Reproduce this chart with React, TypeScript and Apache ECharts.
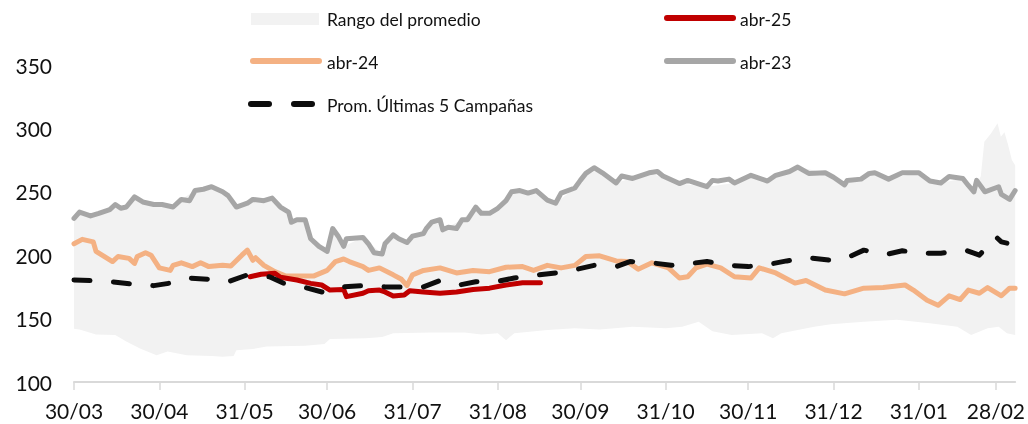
import React, { useEffect, useRef } from "react";
import * as echarts from "echarts";

// x = days since 30/03
const tickDays = [0, 31, 62, 92, 123, 154, 184, 215, 245, 276, 307, 335];
const tickLabels = ["30/03", "30/04", "31/05", "30/06", "31/07", "31/08", "30/09", "31/10", "30/11", "31/12", "31/01", "28/02"];

const abr25: [number, number][] = [
  [64, 183], [68, 185], [73, 185.7], [75, 182.6], [81, 180.4], [86, 177.8], [90, 176.5], [93, 172.5], [98, 173],
  [99, 167.3], [105, 170], [107, 172], [111, 172.5], [113, 171], [116, 167.8], [120, 168.6], [122, 172], [127, 171],
  [133, 170], [139, 171], [145, 173], [151, 174], [157, 176.5], [163, 178.3], [169.5, 178.3],
];

const abr24: [number, number][] = [
  [0, 209], [3, 212.5], [7, 210.5], [8, 203], [14, 195], [16, 199], [20, 197.5], [22, 193.5], [23, 199], [26, 202],
  [28, 200], [31, 190], [35, 188], [36, 192], [39, 194], [43, 191], [46, 194], [49, 191], [54, 192], [57, 191.5],
  [61, 200], [63, 204], [65, 196], [66, 198], [69, 192], [73, 187], [77, 183.5], [81, 183.5], [87, 183.5], [92, 188],
  [95, 195], [98, 197], [100, 195], [105, 191], [107, 188], [111, 190], [116, 184.5], [119, 181], [121, 176],
  [123, 184.5], [127, 188], [133, 190], [139, 186], [145, 188], [151, 187], [157, 190.5], [163, 191], [167, 188],
  [172, 192], [177, 190], [182, 192], [186, 199], [191, 199.5], [197, 195.5], [201, 195], [205, 189], [210, 194],
  [216, 190], [220, 182], [223, 183], [226, 190], [230, 193], [235, 190], [240, 183], [246, 182], [249, 190],
  [255, 186], [262, 178], [266, 180], [273, 172.5], [280, 169.5], [287, 174], [294, 174.5], [302, 176.5],
  [305, 172.5], [310, 164.5], [314, 160.5], [318, 168], [322, 165], [325, 172.5], [329, 170], [332, 174.5],
  [337, 168], [340, 174], [342, 174],
];

const abr23: [number, number][] = [
  [0, 229], [2, 234], [6, 231], [9, 233], [13, 236], [15, 240], [17, 237], [19, 238], [22, 246], [25, 242], [29, 240],
  [32, 240], [36, 238], [39, 244], [42, 243], [44, 251], [47, 252], [50, 254], [54, 250], [56, 247], [59, 238],
  [63, 241], [65, 244], [69, 243], [72, 245], [75, 238], [78, 234], [79, 226], [81, 228], [84, 228], [86, 213],
  [89, 207], [92, 203], [94, 221], [96, 215], [98, 207], [99, 213], [105, 214], [107, 209], [109, 202], [112, 201],
  [113, 209], [116, 216], [118, 213], [121, 210], [123, 215], [127, 217], [128, 221], [130, 226], [133, 228],
  [134, 220], [136, 222], [139, 221], [141, 228], [143, 228], [146, 238], [148, 233], [151, 233], [154, 237],
  [157, 243], [159, 250], [162, 251], [165, 249], [168, 251], [172, 243.5], [175, 241], [177, 249], [182, 253],
  [184, 259], [186, 264.5], [189, 269], [192, 265], [197, 257], [199, 262.5], [203, 260.5], [209, 265], [212, 266],
  [214, 262.5], [220, 256.5], [223, 259], [230, 254], [232, 259], [234, 258.5], [238, 260], [240, 257], [246, 263],
  [252, 258.5], [255, 263], [260, 266], [263, 269.5], [267, 264.5], [273, 265], [276, 261.5], [280, 255.5],
  [281, 259], [286, 260], [289, 264.5], [291, 265], [296, 260], [301, 265], [307, 265], [311, 258.5], [315, 257],
  [318, 262], [323, 260.5], [325, 255], [327, 250], [328, 259], [331, 250], [336, 254], [337, 248], [340, 244],
  [342, 251],
];

const prom5: [number, number][] = [
  [0, 180.5], [6, 180], [14, 179], [22, 177], [29, 176], [35, 178], [42, 182], [49, 181], [56, 179], [63, 184.5],
  [71, 183], [76, 178], [84, 174.5], [91, 170.5], [98, 175], [105, 176], [113, 175], [119, 175], [127, 175],
  [133, 180], [140, 176.5], [146, 179], [154, 179.5], [160, 182], [169, 184.5], [175, 186], [183, 189], [189, 192],
  [197, 191], [202, 195], [210, 194], [217, 192], [224, 193.5], [230, 195], [238, 192], [245, 191], [253, 193],
  [259, 195.5], [267, 198], [275, 196], [282, 199], [287, 204], [295, 200.5], [301, 203.5], [308, 201.5],
  [315, 201.5], [322, 203.5], [324, 204], [329, 200], [335, 214.5], [337, 210.5], [339, 209.5],
];

const bandHigh: [number, number][] = [
  [0, 229], [2, 234], [6, 231], [13, 236], [15, 240], [19, 238], [22, 246], [29, 240], [36, 238], [39, 244],
  [44, 251], [50, 254], [56, 247], [59, 238], [65, 244], [72, 245], [78, 234], [79, 226], [84, 228], [86, 213],
  [92, 203], [94, 221], [98, 207], [105, 214], [112, 201], [116, 216], [121, 210], [130, 226], [133, 228],
  [134, 220], [141, 228], [146, 238], [151, 233], [159, 250], [168, 251], [175, 241], [182, 253], [189, 269],
  [197, 257], [209, 265], [220, 256.5], [230, 254], [240, 257], [246, 263], [252, 258.5], [263, 269.5],
  [273, 265], [280, 255.5], [291, 265], [296, 260], [307, 265], [315, 257], [323, 260.5], [327, 252],
  [329.5, 262], [330.8, 289.5], [333.2, 296], [335.6, 304], [336.8, 293.5], [338.1, 297], [339.3, 288],
  [340.8, 275], [342, 271],
];

const bandLow: [number, number][] = [
  [0, 142], [2, 141.5], [8, 137.5], [15, 137], [19, 132], [24, 126.5], [30, 121], [34, 124], [41, 121],
  [50, 120.5], [54, 120], [58, 120.5], [59, 125], [65, 126], [70, 128], [84, 128.5], [91, 130], [93, 134],
  [106, 134.5], [112, 135.5], [116, 138.5], [130, 139], [142, 139], [148, 137.5], [154, 138.5], [157, 133],
  [160, 138.5], [172, 141], [182, 142.3], [191, 141.5], [203, 143.5], [215, 142.3], [221, 143.5], [227, 147.5],
  [232, 140], [239, 137], [250, 138.5], [254, 134.5], [257, 138.5], [269, 143.5], [275, 145.5], [287, 147.5],
  [299, 149], [311, 146.3], [321, 143.5], [326, 137], [332, 142.3], [336, 143.5], [339, 138.5], [342, 137],
];

const FONT = "Lato, 'Open Sans', sans-serif";
const LEG_FONT = `17.5px ${FONT}`;

export default function App() {
  const ref = useRef<HTMLDivElement>(null);
  useEffect(() => {
    const chart = echarts.init(ref.current!, null, { renderer: "svg" });
    const lineSeries = (name: string, data: [number, number][], color: string, z: number, dashed = false) => ({
      name,
      type: "line",
      data,
      showSymbol: false,
      symbol: "none",
      z,
      lineStyle: {
        color,
        width: 5,
        cap: "round",
        join: "round",
        type: dashed ? [16, 23.5] : "solid",
      },
    });
    const legLine = (x1: number, x2: number, y: number, color: string) => ({
      type: "line",
      shape: { x1, y1: y, x2, y2: y },
      style: { stroke: color, lineWidth: 6, lineCap: "round" },
    });
    const legText = (x: number, y: number, text: string) => ({
      type: "text",
      x,
      y,
      style: { text, font: LEG_FONT, fill: "#111", verticalAlign: "middle" },
    });
    chart.setOption({
      animation: false,
      grid: { left: 74, right: 10, top: 65, bottom: 42 },
      xAxis: {
        type: "value",
        min: 0,
        max: 342,
        splitLine: { show: false },
        axisLine: { show: true, lineStyle: { color: "#d9d9d9", width: 2 } },
        axisTick: { show: true, customValues: tickDays, length: 8, lineStyle: { color: "#d9d9d9", width: 1.5 } },
        axisLabel: {
          customValues: tickDays,
          formatter: (v: number) => {
            const i = tickDays.indexOf(Math.round(v));
            return i >= 0 ? tickLabels[i] : "";
          },
          margin: 18,
          fontFamily: FONT,
          fontSize: 21,
          color: "#111",
        },
      },
      yAxis: {
        type: "value",
        min: 100,
        max: 350,
        interval: 50,
        splitLine: { show: false },
        axisLine: { show: false },
        axisTick: { show: false },
        axisLabel: { margin: 22, fontFamily: FONT, fontSize: 21, color: "#111" },
      },
      series: [
        {
          name: "Rango del promedio",
          type: "custom",
          z: 1,
          clip: false,
          data: [[0, 100]],
          renderItem: (params: any, api: any) => {
            if (params.dataIndex !== 0) return null;
            const pts = [
              ...bandHigh.map((p) => api.coord(p)),
              ...bandLow.slice().reverse().map((p) => api.coord(p)),
            ];
            return { type: "polygon", shape: { points: pts }, style: { fill: "#f2f2f2" } };
          },
        },
        lineSeries("abr-24", abr24, "#f4b183", 3),
        lineSeries("abr-23", abr23, "#a6a6a6", 3),
        lineSeries("abr-25", abr25, "#c00000", 4),
        lineSeries("Prom. Últimas 5 Campañas", prom5, "#0d0d0d", 5, true),
      ],
      graphic: [
        { type: "rect", shape: { x: 251, y: 13, width: 68, height: 12 }, style: { fill: "#f2f2f2" } },
        legText(327, 19, "Rango del promedio"),
        legLine(667, 733, 18, "#c00000"),
        legText(740, 19, "abr-25"),
        legLine(253, 319, 61, "#f4b183"),
        legText(327, 62, "abr-24"),
        legLine(667, 733, 61, "#a6a6a6"),
        legText(740, 62, "abr-23"),
        legLine(251, 269, 104, "#0d0d0d"),
        legLine(294, 312, 104, "#0d0d0d"),
        legText(327, 105, "Prom. Últimas 5 Campañas"),
      ],
    });
    return () => chart.dispose();
  }, []);
  return <div ref={ref} style={{ position: "fixed", left: 0, top: 0, width: 1028, height: 424 }} />;
}
